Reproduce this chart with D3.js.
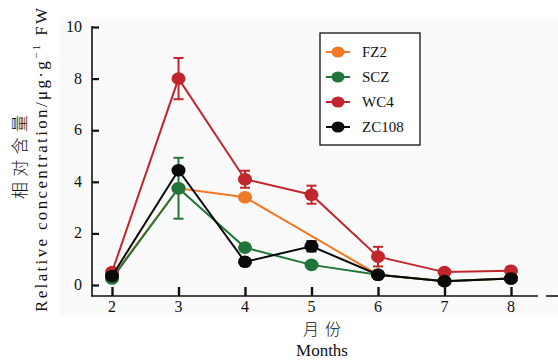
<!DOCTYPE html>
<html>
<head>
<meta charset="utf-8">
<script src="https://cdn.jsdelivr.net/npm/d3@7"></script>
<style>
  body { margin: 0; background: #fff; }
  text { font-family: "Liberation Serif", "DejaVu Serif", serif; fill: #111; }
</style>
</head>
<body>
<div id="chart"></div>
<script>
// months on the x axis
var months = [2, 3, 4, 5, 6, 7, 8];
var yTicks = [0, 2, 4, 6, 8, 10];
var seriesNames = ['FZ2', 'SCZ', 'WC4', 'ZC108'];
var seriesColors = ['#f07a26', '#22753a', '#c0262b', '#0a0a0a'];

// values (null = no point)
var fz2 = [0.30, 3.75, 3.40, null, 0.40, 0.15, 0.25];
var scz = [0.25, 3.75, 1.45, 0.78, 0.40, 0.15, 0.25];
var wc4 = [0.50, 8.00, 4.10, 3.50, 1.10, 0.50, 0.55];
var zc108 = [0.35, 4.45, 0.90, 1.50, 0.40, 0.15, 0.25];

// error bar half widths
var fz2Err = [0, 0, 0.1, 0, 0, 0, 0];
var sczErr = [0, 1.18, 0, 0, 0, 0, 0];
var wc4Err = [0, 0.8, 0.33, 0.35, 0.38, 0, 0];
var zc108Err = [0, 0, 0, 0.2, 0, 0, 0];

var width = 558, height = 361;

var svg = d3.select('#chart').append('svg')
    .attr('width', width)
    .attr('height', height);

// light grey panel behind the plot
svg.append('rect')
    .attr('x', 60).attr('y', 17)
    .attr('width', 498).attr('height', 298)
    .attr('fill', '#fafafa');

var x = d3.scaleLinear().domain([2, 8]).range([112, 511]);
var y = d3.scaleLinear().domain([0, 10]).range([285, 27]);
var axisY = 296;

// y axis
var yAxis = d3.axisRight(y)
    .tickValues(yTicks)
    .tickSize(7)
    .tickFormat('');
var gy = svg.append('g')
    .attr('transform', 'translate(92,0)')
    .call(yAxis);
gy.select('.domain').remove();
gy.selectAll('line').attr('stroke', '#111').attr('stroke-width', 2.2);
svg.append('line')
    .attr('x1', 92).attr('x2', 92)
    .attr('y1', y(10) - 1).attr('y2', axisY)
    .attr('stroke', '#111').attr('stroke-width', 1.6);
svg.selectAll('.ylab')
    .data(yTicks)
  .enter().append('text')
    .attr('class', 'ylab')
    .attr('x', 82)
    .attr('y', function(d) { return y(d) + 5; })
    .attr('text-anchor', 'end')
    .style('font-size', '16px')
    .text(function(d) { return d; });

// x axis
var xAxis = d3.axisTop(x)
    .tickValues(months)
    .tickSize(9)
    .tickFormat('');
var gx = svg.append('g')
    .attr('transform', 'translate(0,' + axisY + ')')
    .call(xAxis);
gx.select('.domain').remove();
gx.selectAll('line').attr('stroke', '#111').attr('stroke-width', 2.4);
svg.append('line')
    .attr('x1', 91).attr('x2', 538)
    .attr('y1', axisY).attr('y2', axisY)
    .attr('stroke', '#111').attr('stroke-width', 1.6);
svg.append('line')
    .attr('x1', 546).attr('x2', 558)
    .attr('y1', axisY).attr('y2', axisY)
    .attr('stroke', '#111').attr('stroke-width', 1.6);
svg.selectAll('.xlab')
    .data(months)
  .enter().append('text')
    .attr('class', 'xlab')
    .attr('x', function(d) { return x(d); })
    .attr('y', 312)
    .attr('text-anchor', 'middle')
    .style('font-size', '16px')
    .text(function(d) { return d; });

// axis titles
svg.append('text')
    .attr('x', 322).attr('y', 335)
    .attr('text-anchor', 'middle')
    .attr('textLength', 38)
    .attr('lengthAdjust', 'spacing')
    .style('font-family', '"Noto Sans CJK SC", sans-serif')
    .style('font-weight', 300)
    .style('font-size', '16px')
    .attr('fill', '#333')
    .text('月份');
svg.append('text')
    .attr('x', 322).attr('y', 356)
    .attr('text-anchor', 'middle')
    .style('font-size', '17px')
    .text('Months');

svg.append('text')
    .attr('transform', 'translate(26,157) rotate(-90)')
    .attr('text-anchor', 'middle')
    .attr('textLength', 84)
    .attr('lengthAdjust', 'spacing')
    .style('font-family', '"Noto Sans CJK SC", sans-serif')
    .style('font-weight', 300)
    .style('font-size', '17px')
    .attr('fill', '#333')
    .text('相对含量');
var ylab = svg.append('text')
    .attr('transform', 'translate(47,160) rotate(-90)')
    .attr('text-anchor', 'middle')
    .attr('textLength', 304)
    .attr('lengthAdjust', 'spacing')
    .style('font-size', '17px');
ylab.append('tspan').text('Relative  concentration/μg·g');
ylab.append('tspan').attr('dy', -7).style('font-size', '11px').text('−1');
ylab.append('tspan').attr('dy', 7).text('  FW');

// series
var allSeries = [fz2, scz, wc4, zc108];
var allErr = [fz2Err, sczErr, wc4Err, zc108Err];

var line = d3.line()
    .x(function(d) { return x(d.m); })
    .y(function(d) { return y(d.v); });

allSeries.forEach(function(vals, si) {
  var pts = [];
  vals.forEach(function(v, i) {
    if (v !== null) pts.push({ m: months[i], v: v, e: allErr[si][i] });
  });
  var g = svg.append('g');
  var col = seriesColors[si];

  g.append('path')
      .datum(pts)
      .attr('d', line)
      .attr('fill', 'none')
      .attr('stroke', col)
      .attr('stroke-width', 2);

  var eb = g.selectAll('.eb')
      .data(pts.filter(function(d) { return d.e > 0; }))
    .enter().append('g');
  eb.append('line')
      .attr('x1', function(d) { return x(d.m); })
      .attr('x2', function(d) { return x(d.m); })
      .attr('y1', function(d) { return y(d.v - d.e); })
      .attr('y2', function(d) { return y(d.v + d.e); })
      .attr('stroke', col).attr('stroke-width', 2);
  [-1, 1].forEach(function(s) {
    eb.append('line')
        .attr('x1', function(d) { return x(d.m) - 5; })
        .attr('x2', function(d) { return x(d.m) + 5; })
        .attr('y1', function(d) { return y(d.v + s * d.e); })
        .attr('y2', function(d) { return y(d.v + s * d.e); })
        .attr('stroke', col).attr('stroke-width', 2);
  });

  g.selectAll('ellipse')
      .data(pts)
    .enter().append('ellipse')
      .attr('cx', function(d) { return x(d.m); })
      .attr('cy', function(d) { return y(d.v); })
      .attr('rx', 7)
      .attr('ry', 6.3)
      .attr('fill', col);
});

// legend
var legend = svg.append('g');
legend.append('rect')
    .attr('x', 320).attr('y', 33)
    .attr('width', 100).attr('height', 112)
    .attr('fill', '#fff')
    .attr('stroke', '#111')
    .attr('stroke-width', 1.3);
var li = legend.selectAll('.li')
    .data(seriesNames)
  .enter().append('g')
    .attr('transform', function(d, i) { return 'translate(0,' + (52 + i * 25) + ')'; });
li.append('line')
    .attr('x1', 326).attr('x2', 350)
    .attr('stroke', function(d, i) { return seriesColors[i]; })
    .attr('stroke-width', 2);
li.append('ellipse')
    .attr('cx', 338).attr('rx', 6.5).attr('ry', 5.5)
    .attr('fill', function(d, i) { return seriesColors[i]; });
li.append('text')
    .attr('x', 362).attr('y', 5)
    .style('font-size', '15px')
    .text(function(d) { return d; });
</script>
</body>
</html>
